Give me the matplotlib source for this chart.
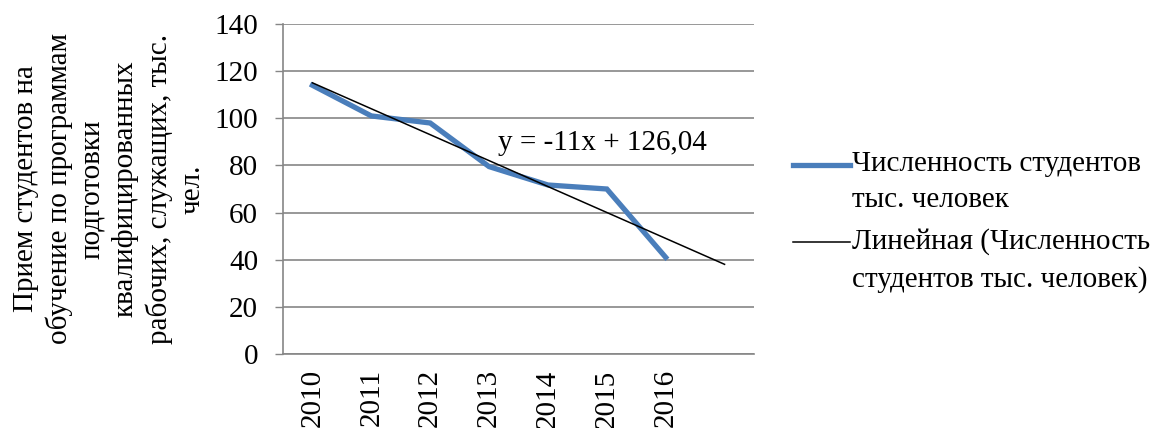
import numpy as np
import matplotlib
matplotlib.use("Agg")
import matplotlib.pyplot as plt
from matplotlib.lines import Line2D

plt.rcParams['font.family'] = ['Liberation Serif', 'DejaVu Serif']

years = ['2010', '2011', '2012', '2013', '2014', '2015', '2016']
students = [114, 101, 98, 79.5, 71.7, 70, 41]
# linear trend from the chart label, forecast one period forward
trend_slope = -11
trend_intercept = 126.04
trend_periods = 8

series_label = 'Численность студентов\nтыс. человек'
trend_label = 'Линейная (Численность\nстудентов тыс. человек)'
y_label = ('Прием студентов на\nобучение по программам\nподготовки\n'
           'квалифицированных\nрабочих, служащих, тыс.\nчел.')

W, H = 1154, 428
fs = 21
grey = '#868686'
blue = '#4a7ebb'

fig = plt.figure(figsize=(W / 100, H / 100), dpi=100)
ax = fig.add_axes([283 / W, 1 - 354 / H, (754 - 283) / W, (354 - 24) / H])

x = np.arange(len(years))
ax.plot(x, students, color=blue, lw=3.8, solid_joinstyle='miter', zorder=3)

xt = np.array([1, trend_periods])
ax.plot(xt - 1, trend_slope * xt + trend_intercept, color='black', lw=1.1, zorder=4)

ax.text(3.15, 89.5, 'y = -11x + 126,04', fontsize=fs, va='center', ha='left')

ax.set_xlim(-0.5, trend_periods - 0.5)
ax.set_ylim(0, 140)
ax.set_yticks(range(0, 141, 20))
ax.set_xticks(x)
ax.set_xticklabels(years, rotation=90, fontsize=fs)
ax.tick_params(axis='x', length=0, pad=11)
ax.tick_params(axis='y', length=6, width=1, color=grey, pad=12, labelsize=fs)
ax.yaxis.grid(True, color=grey, lw=1.2)
ax.set_axisbelow(True)
for s in ['top', 'right']:
    ax.spines[s].set_visible(False)
for s in ['left', 'bottom']:
    ax.spines[s].set_color(grey)
    ax.spines[s].set_linewidth(1.2)

fig.text(109 / W, 1 - 189 / H, y_label, rotation=90, ha='center', va='center',
         multialignment='center', fontsize=fs, linespacing=1.31)

# legend drawn by hand so the handle sits on the first text line
for yy, lab, col, lw in [(165, series_label, blue, 3.8), (242, trend_label, 'black', 1.1)]:
    fig.add_artist(Line2D([793 / W, 850 / W], [1 - yy / H] * 2, color=col, lw=lw,
                          transform=fig.transFigure))
    fig.text(852 / W, 1 - (yy - 14) / H, lab, ha='left', va='top', fontsize=fs,
             linespacing=1.52)

fig.savefig('out.png', dpi=100)
